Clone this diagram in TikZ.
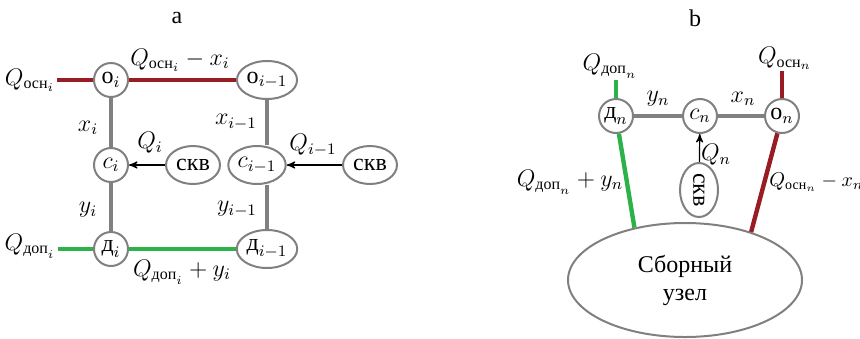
\documentclass[tikz,border=0pt]{standalone}
\usepackage{amsmath}
\usepackage{fontspec}
\setmainfont{Liberation Serif}
\usepackage{tikz}
\usetikzlibrary{shapes}
\usetikzlibrary{arrows}
\definecolor{osncol}{RGB}{152,28,36}
\definecolor{dopcol}{RGB}{44,178,72}
\definecolor{linegray}{RGB}{128,128,128}
\tikzset{
	main node/.style={circle,draw=linegray,line width=1pt,inner sep=0.5pt,minimum size=17pt,font=\large},
	oval node/.style={ellipse,draw=linegray,line width=1pt,inner sep=0.5pt,minimum width=27pt,minimum height=19pt,font=\large},
	label text/.style={font=\large,inner sep=1pt},
	gray line/.style={draw=linegray,line width=1.6pt},
	osn line/.style={draw=osncol,line width=2.2pt},
	dop line/.style={draw=dopcol,line width=2.2pt},
	feed line/.style={->,>=stealth',draw=black,line width=0.6pt}
}

\begin{document}
\begin{tikzpicture}[x=0.5pt,y=-0.5pt]
	\useasboundingbox (0,0) rectangle (860,338);
	% a
	\node [label text] (capa) at (177,18) {a};
	\node [main node] (oi) at (111,80) {$\text{о}_{i}$};
	\node [oval node] (oi1) at (267,80) {$\text{о}_{i-1}$};
	\node [main node] (ci) at (111,165) {$c_{i}$};
	\node [oval node] (ci1) at (257,165) {$c_{i-1}$};
	\node [oval node] (skva) at (193,165) {скв};
	\node [oval node] (skvb) at (370,165) {скв};
	\node [main node] (di) at (111,249) {$\text{д}_{i}$};
	\node [oval node] (di1) at (267,249) {$\text{д}_{i-1}$};
	\node [label text] (qosni) at (30,80) {$Q_{\text{осн}_{i}}$};
	\node [label text] (qdopi) at (30,246) {$Q_{\text{доп}_{i}}$};
	\node [label text] (qoi) at (180,60) {$Q_{\text{осн}_{i}}-x_{i}$};
	\node [label text] (qdi) at (182,272) {$Q_{\text{доп}_{i}}+y_{i}$};
	\node [label text] (xi) at (88,128) {$x_{i}$};
	\node [label text] (xi1) at (236,122) {$x_{i-1}$};
	\node [label text] (yi) at (88,210) {$y_{i}$};
	\node [label text] (yi1) at (237,209) {$y_{i-1}$};
	\node [label text] (qi) at (150,143) {$Q_{i}$};
	\node [label text] (qi1) at (313,145) {$Q_{i-1}$};
	\draw [osn line] (qosni.east |- oi) -- (oi);
	\draw [osn line] (oi) -- (oi1);
	\draw [dop line] (qdopi.east |- di) -- (di);
	\draw [dop line] (di) -- (di1);
	\draw [gray line] (oi) -- (ci);
	\draw [gray line] (ci) -- (di);
	\draw [gray line] (oi1.south) -- (oi1.south |- ci1.north);
	\draw [gray line] (di1.north |- ci1.south) -- (di1.north);
	\draw [feed line] (skva) -- (ci);
	\draw [feed line] (skvb) -- (ci1);
	% b
	\node [label text] (capb) at (695,18) {b};
	\node [main node] (dn) at (616,116) {$\text{д}_{n}$};
	\node [main node] (cn) at (700,116) {$c_{n}$};
	\node [main node] (on) at (782,116) {$\text{о}_{n}$};
	\node [oval node,rotate=-90] (skvn) at (699,190) {скв};
	\node [ellipse,draw=linegray,line width=1pt,minimum width=117pt,minimum height=57pt,
		align=center,font=\large] (sb) at (685,280) {Сборный\\узел};
	\node [label text] (qdopn) at (610,66) {$Q_{\text{доп}_{n}}$};
	\node [label text] (qosnn) at (785,58) {$Q_{\text{осн}_{n}}$};
	\node [label text] (yn) at (658,99) {$y_{n}$};
	\node [label text] (xn) at (743,99) {$x_{n}$};
	\node [label text] (qn) at (716,155) {$Q_{n}$};
	\node [label text] (qdn) at (570,182) {$Q_{\text{доп}_{n}}+y_{n}$};
	\node [label text,font=\normalsize,anchor=west] (qon) at (767,182) {$Q_{\text{осн}_{n}}-x_{n}$};
	\draw [gray line] (dn) -- (cn);
	\draw [gray line] (cn) -- (on);
	\draw [dop line] (dn |- qdopn.south) -- (dn);
	\draw [osn line] (on |- qosnn.south) -- (on);
	\draw [dop line] (dn) -- (sb.134);
	\draw [osn line] (on) -- (sb.36);
	\draw [feed line] (skvn) -- (cn);
\end{tikzpicture}
\end{document}
